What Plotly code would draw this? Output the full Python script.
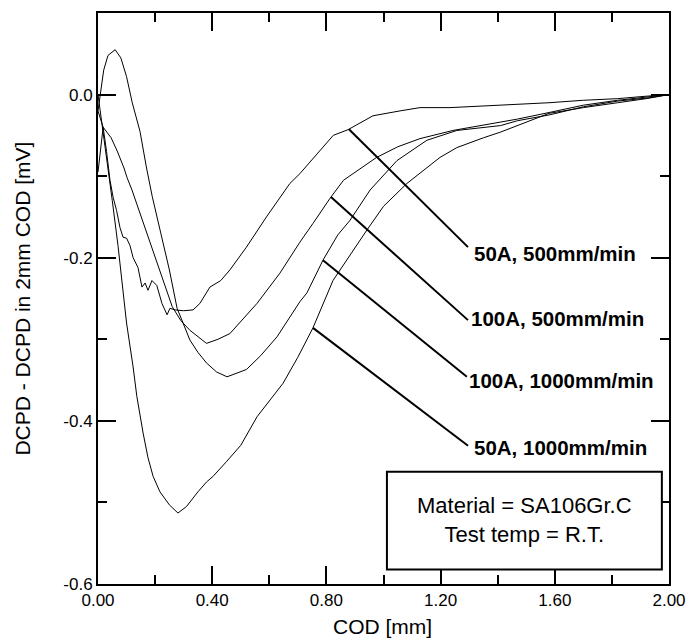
import numpy as np
import plotly.graph_objects as go

# ---- data (COD [mm], DCPD - DCPD in 2mm COD [mV]) ----
a_x = [0.0, 0.018, 0.03, 0.042, 0.053, 0.065, 0.077, 0.088, 0.1, 0.112, 0.123, 0.14, 0.154, 0.165,
       0.175, 0.189, 0.206, 0.224, 0.242, 0.252, 0.27, 0.3, 0.333, 0.357, 0.392, 0.43, 0.462, 0.52,
       0.59, 0.672, 0.707, 0.77, 0.824, 0.876, 0.963, 1.058, 1.128, 1.233, 1.41, 1.58, 1.70, 1.82,
       1.92, 2.0]
a_y = [-0.095, -0.04, -0.07, -0.105, -0.126, -0.142, -0.163, -0.175, -0.176, -0.185, -0.2, -0.212,
       -0.236, -0.231, -0.24, -0.228, -0.234, -0.256, -0.27, -0.262, -0.264, -0.265, -0.264, -0.256,
       -0.236, -0.228, -0.215, -0.187, -0.15, -0.109, -0.097, -0.072, -0.05, -0.043, -0.026, -0.02,
       -0.016, -0.016, -0.013, -0.01, -0.007, -0.005, -0.002, 0.0]

c_x = [0.0, 0.018, 0.046, 0.067, 0.091, 0.102, 0.119, 0.15, 0.189, 0.23, 0.26, 0.29, 0.322, 0.38,
       0.42, 0.462, 0.508, 0.557, 0.637, 0.707, 0.753, 0.813, 0.86, 0.92, 0.976, 1.05, 1.128, 1.243,
       1.41, 1.47, 1.58, 1.70, 1.82, 1.93, 2.0]
c_y = [-0.02, -0.04, -0.053, -0.069, -0.09, -0.102, -0.117, -0.148, -0.188, -0.228, -0.26, -0.277,
       -0.289, -0.305, -0.3, -0.293, -0.275, -0.256, -0.219, -0.181, -0.158, -0.127, -0.105, -0.09,
       -0.077, -0.064, -0.054, -0.044, -0.034, -0.03, -0.022, -0.013, -0.007, -0.003, 0.0]

b_x = [0.0, 0.008, 0.02, 0.035, 0.06, 0.08, 0.1, 0.12, 0.147, 0.17, 0.19, 0.22, 0.25, 0.277, 0.305,
       0.322, 0.35, 0.38, 0.415, 0.452, 0.52, 0.57, 0.627, 0.672, 0.707, 0.732, 0.788, 0.84, 0.883,
       0.953, 1.047, 1.152, 1.257, 1.41, 1.47, 1.58, 1.70, 1.82, 1.93, 2.0]
b_y = [-0.02, 0.0, 0.03, 0.048, 0.055, 0.045, 0.022, -0.01, -0.045, -0.09, -0.125, -0.17, -0.215,
       -0.262, -0.285, -0.301, -0.316, -0.329, -0.34, -0.346, -0.337, -0.32, -0.297, -0.273, -0.254,
       -0.243, -0.203, -0.172, -0.154, -0.117, -0.081, -0.056, -0.044, -0.038, -0.032, -0.025,
       -0.015, -0.008, -0.004, 0.0]

d_x = [0.0, 0.03, 0.05, 0.07, 0.088, 0.1, 0.123, 0.136, 0.158, 0.175, 0.193, 0.217, 0.25, 0.28,
       0.31, 0.35, 0.38, 0.403, 0.45, 0.5, 0.557, 0.648, 0.7, 0.753, 0.823, 0.872, 0.942, 1.0, 1.082,
       1.198, 1.257, 1.35, 1.41, 1.58, 1.70, 1.82, 1.92, 2.0]
d_y = [0.0, -0.075, -0.13, -0.185, -0.245, -0.28, -0.334, -0.37, -0.415, -0.445, -0.468, -0.487,
       -0.503, -0.513, -0.505, -0.487, -0.475, -0.468, -0.45, -0.43, -0.395, -0.354, -0.322, -0.286,
       -0.228, -0.202, -0.166, -0.137, -0.109, -0.077, -0.065, -0.053, -0.046, -0.023, -0.016, -0.01,
       -0.005, 0.0]

series_names = ["50A, 500mm/min", "100A, 500mm/min", "100A, 1000mm/min", "50A, 1000mm/min"]
# COD where each leader line touches its curve, and label anchor positions
leader_x = [0.879, 0.816, 0.788, 0.753]
label_x = [1.296, 1.296, 1.292, 1.296]
label_end_y = [-0.187, -0.2765, -0.346, -0.4306]
label_text_y = [-0.195, -0.274, -0.350, -0.433]
label_text_x = [1.31, 1.30, 1.293, 1.31]

info_text = "Material = SA106Gr.C<br>Test temp = R.T."

x_range = [0.0, 2.0]
y_range = [-0.6, 0.1]
x_tickvals = [0.0, 0.4, 0.8, 1.2, 1.6, 2.0]
x_ticktext = ["0.00", "0.40", "0.80", "1.20", "1.60", "2.00"]
x_major_ticks = [0.4, 0.8, 1.2, 1.6]
x_minor = [0.2, 0.6, 1.0, 1.4, 1.8]
y_tickvals = [-0.6, -0.4, -0.2, 0.0]
y_ticktext = ["-0.6", "-0.4", "-0.2", "0.0"]
y_major_ticks = [-0.4, -0.2, 0.0]
y_minor = [-0.5, -0.3, -0.1]

x_title = "COD [mm]"
y_title = "DCPD - DCPD in 2mm COD [mV]"

FONT = "Liberation Sans, Arial, Helvetica, sans-serif"

curves = [(a_x, a_y), (c_x, c_y), (b_x, b_y), (d_x, d_y)]

fig = go.Figure()
for (xs, ys), name in zip(curves, series_names):
    fig.add_trace(go.Scatter(x=xs, y=ys, mode="lines", name=name,
                             line=dict(color="black", width=1), showlegend=False))

shapes = []
annotations = []
for (xs, ys), name, lx, ex, ey, tx, ty in zip(curves, series_names, leader_x, label_x,
                                              label_end_y, label_text_x, label_text_y):
    y0 = float(np.interp(lx, xs, ys))
    shapes.append(dict(type="line", xref="x", yref="y", x0=lx, y0=y0, x1=ex, y1=ey,
                       line=dict(color="black", width=2)))
    annotations.append(dict(x=tx, y=ty, xref="x", yref="y", text="<b>%s</b>" % name,
                            showarrow=False, xanchor="left", yanchor="middle",
                            font=dict(family=FONT, size=20.5, color="black")))

# info box
shapes.append(dict(type="rect", xref="x", yref="y", x0=1.012, x1=1.975, y0=-0.5823, y1=-0.4624,
                   line=dict(color="black", width=2), fillcolor="white", layer="above"))
annotations.append(dict(x=1.4935, y=-0.522, xref="x", yref="y", text=info_text,
                        showarrow=False, xanchor="center", yanchor="middle", align="center",
                        font=dict(family=FONT, size=22, color="black")))

# axis titles
annotations.append(dict(x=0.499, y=-0.0753, xref="paper", yref="paper", text=x_title,
                        showarrow=False, xanchor="center", yanchor="middle",
                        font=dict(family=FONT, size=21, color="black")))
annotations.append(dict(x=-0.133, y=0.5, xref="paper", yref="paper", text=y_title,
                        showarrow=False, xanchor="center", yanchor="middle", textangle=-90,
                        font=dict(family=FONT, size=21, color="black")))

# invisible helper traces so the tick overlay axes share the same ranges
for xa, ya in (("x2", "y2"), ("x3", "y3")):
    fig.add_trace(go.Scatter(x=x_range, y=y_range, mode="markers", xaxis=xa, yaxis=ya,
                             marker=dict(opacity=0), showlegend=False, hoverinfo="skip"))

base = dict(showline=True, linecolor="black", linewidth=2, mirror="ticks",
            tickwidth=2, tickcolor="black", automargin=False,
            showgrid=False, zeroline=False, tickmode="array",
            tickfont=dict(family=FONT, size=17, color="black"))

fig.update_layout(
    template="none",
    width=688, height=641,
    margin=dict(l=98, r=19, t=13, b=57),
    paper_bgcolor="white", plot_bgcolor="white",
    shapes=shapes, annotations=annotations,
    xaxis=dict(range=x_range, tickvals=x_tickvals, ticktext=x_ticktext, ticks="", **base),
    yaxis=dict(range=y_range, tickvals=y_tickvals, ticktext=y_ticktext, ticks="", **base),
    # all ticks (minor and major) at the short length
    xaxis2=dict(range=x_range, overlaying="x", anchor="y2", side="bottom", ticks="inside",
                tickvals=sorted(x_minor + x_major_ticks), ticklen=9, showticklabels=False,
                **base),
    yaxis2=dict(range=y_range, overlaying="y", anchor="x2", side="left", ticks="inside",
                tickvals=sorted(y_minor + y_major_ticks), ticklen=9, showticklabels=False,
                **base),
    # major ticks at full length
    xaxis3=dict(range=x_range, overlaying="x", anchor="y3", side="bottom", ticks="inside",
                tickvals=x_major_ticks, ticklen=18, showticklabels=False, **base),
    yaxis3=dict(range=y_range, overlaying="y", anchor="x3", side="left", ticks="inside",
                tickvals=y_major_ticks, ticklen=18, showticklabels=False, **base),
)

fig.write_html("out.html")
